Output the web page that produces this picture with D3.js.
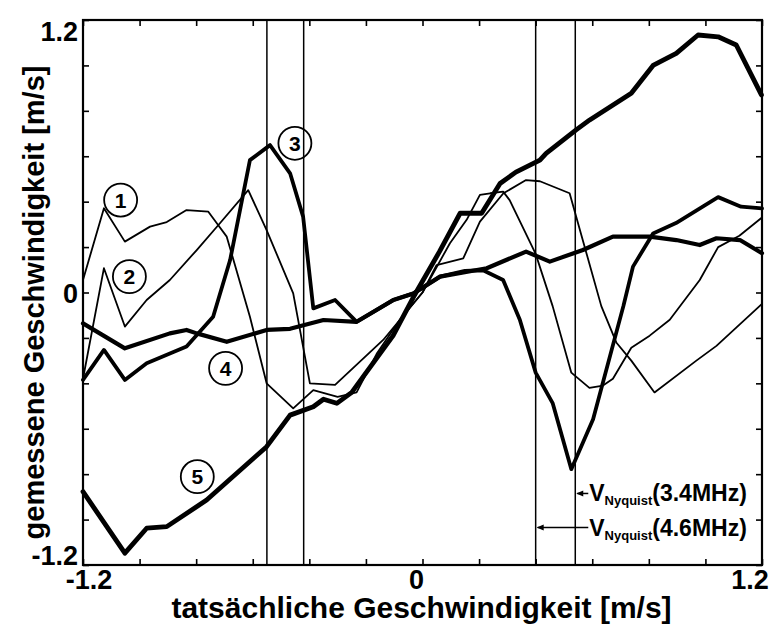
<!DOCTYPE html>
<html>
<head>
<meta charset="utf-8">
<script src="https://cdn.jsdelivr.net/npm/d3@7"></script>
<style>
  body { margin: 0; background: #fff; }
  text { font-family: "Liberation Sans", Arial, sans-serif; fill: #000; }
</style>
</head>
<body>
<div id="chart"></div>
<script>
var kurve1 = [[-1.2, 0.055], [-1.126, 0.371], [-1.052, 0.224], [-0.963, 0.29], [-0.904, 0.31],
  [-0.834, 0.363], [-0.757, 0.356], [-0.727, 0.305], [-0.692, 0.246], [-0.61, -0.107],
  [-0.551, -0.40], [-0.457, -0.51], [-0.386, -0.43], [-0.30, -0.46], [-0.233, -0.44],
  [-0.162, -0.27], [-0.08, -0.12], [0, 0], [0.05, 0.121], [0.144, 0.15], [0.203, 0.312],
  [0.286, 0.437], [0.366, 0.495], [0.415, 0.49], [0.52, 0.437], [0.632, -0.06],
  [0.685, -0.22], [0.738, -0.30], [0.82, -0.44], [0.968, -0.30], [1.039, -0.235], [1.2, -0.05]];

var kurve2 = [[-1.2, -0.38], [-1.126, 0.107], [-1.052, -0.15], [-0.975, -0.033], [-0.893, 0.055],
  [-0.798, 0.187], [-0.716, 0.305], [-0.616, 0.451], [-0.551, 0.275], [-0.457, -0.004],
  [-0.398, -0.40], [-0.309, -0.407], [-0.139, -0.209], [0, 0], [0.097, 0.217], [0.156, 0.32],
  [0.203, 0.43], [0.239, 0.437], [0.285, 0.444], [0.308, 0.407], [0.40, 0.17], [0.46, -0.06],
  [0.526, -0.353], [0.59, -0.42], [0.638, -0.41], [0.673, -0.38], [0.738, -0.243],
  [0.803, -0.19], [0.874, -0.12], [0.98, 0.055], [1.045, 0.2], [1.12, 0.25], [1.2, 0.33]];

var kurve3 = [[-1.2, -0.385], [-1.126, -0.253], [-1.052, -0.385], [-0.975, -0.312], [-0.834, -0.238],
  [-0.74, -0.107], [-0.68, 0.143], [-0.61, 0.583], [-0.539, 0.649], [-0.468, 0.525],
  [-0.422, 0.334], [-0.386, -0.07], [-0.309, -0.033], [-0.245, -0.114], [-0.233, -0.129],
  [-0.103, -0.033], [-0.032, -0.004], [0.062, 0.07], [0.15, 0.095], [0.214, 0.098],
  [0.285, 0.055], [0.344, -0.12], [0.40, -0.353], [0.46, -0.487], [0.526, -0.778],
  [0.603, -0.558], [0.71, -0.06], [0.744, 0.114], [0.815, 0.26], [0.896, 0.306],
  [1.045, 0.42], [1.126, 0.378], [1.2, 0.37]];

var kurve4 = [[-1.2, -0.136], [-1.052, -0.246], [-0.893, -0.18], [-0.834, -0.165], [-0.798, -0.18],
  [-0.692, -0.217], [-0.551, -0.165], [-0.468, -0.16], [-0.35, -0.121], [-0.233, -0.129],
  [-0.103, -0.033], [-0.032, -0.004], [0.062, 0.07], [0.227, 0.107], [0.366, 0.18],
  [0.45, 0.136], [0.567, 0.187], [0.673, 0.246], [0.803, 0.246], [0.897, 0.231],
  [0.98, 0.209], [1.039, 0.239], [1.122, 0.231], [1.2, 0.173]];

var kurve5 = [[-1.2, -0.877], [-1.052, -1.148], [-0.975, -1.038], [-0.904, -1.031], [-0.763, -0.914],
  [-0.551, -0.679], [-0.468, -0.54], [-0.386, -0.503], [-0.35, -0.47], [-0.303, -0.488],
  [-0.25, -0.44], [-0.104, -0.19], [-0.032, -0.02], [0.06, 0.18], [0.133, 0.349],
  [0.209, 0.349], [0.274, 0.48], [0.33, 0.53], [0.415, 0.583], [0.437, 0.613],
  [0.543, 0.716], [0.591, 0.76], [0.738, 0.877], [0.815, 1.0], [0.897, 1.053],
  [0.974, 1.134], [1.045, 1.126], [1.109, 1.09], [1.198, 0.87]];

var kurven = [kurve1, kurve2, kurve3, kurve4, kurve5];
var linienStaerke = [1.8, 1.8, 3.8, 4.2, 4.8];

// Nummern an den Kurven (Lage in m/s)
var nummern = ["1", "2", "3", "4", "5"];
var nummerX = [-1.067, -1.036, -0.451, -0.696, -0.796];
var nummerY = [0.407, 0.07, 0.657, -0.334, -0.811];

// Nyquist-Grenzen
var nyquistLinien = [-0.55, -0.42, 0.40, 0.54];
var nyquistText = ["(3.4MHz)", "(4.6MHz)"];
var nyquistZiel = [0.54, 0.40];
var nyquistHoehe = [-0.885, -1.035];

var tickWerte = [-1.2, -1.0, -0.8, -0.6, -0.4, -0.2, 0, 0.2, 0.4, 0.6, 0.8, 1.0, 1.2];
var tickBeschriftung = [-1.2, 0, 1.2];

var totalWidth = 783, totalHeight = 626,
    margin = {top: 20, right: 21, bottom: 61, left: 83},
    width = totalWidth - margin.left - margin.right,
    height = totalHeight - margin.top - margin.bottom;

var x = d3.scaleLinear().domain([-1.2, 1.2]).range([0, width]),
    y = d3.scaleLinear().domain([-1.2, 1.2]).range([height, 0]);

var svg = d3.select("#chart").append("svg")
    .attr("width", totalWidth)
    .attr("height", totalHeight)
  .append("g")
    .attr("transform", "translate(" + margin.left + "," + margin.top + ")");

// Ticks nach innen, auf allen vier Seiten
svg.append("g").attr("transform", "translate(0," + height + ")")
  .call(d3.axisBottom(x).tickValues(tickWerte).tickSizeInner(-6).tickSizeOuter(0).tickFormat(""));
svg.append("g")
  .call(d3.axisTop(x).tickValues(tickWerte).tickSizeInner(-6).tickSizeOuter(0).tickFormat(""));
svg.append("g")
  .call(d3.axisLeft(y).tickValues(tickWerte).tickSizeInner(-6).tickSizeOuter(0).tickFormat(""));
svg.append("g").attr("transform", "translate(" + width + ",0)")
  .call(d3.axisRight(y).tickValues(tickWerte).tickSizeInner(-6).tickSizeOuter(0).tickFormat(""));
svg.selectAll(".domain").remove();
svg.selectAll(".tick line").attr("stroke", "#000").attr("stroke-width", 1.6);

// Vertikale Nyquist-Linien
svg.selectAll(".nyq")
  .data(nyquistLinien)
  .enter().append("line")
    .attr("x1", function(d) { return x(d); })
    .attr("x2", function(d) { return x(d); })
    .attr("y1", 0)
    .attr("y2", height)
    .attr("stroke", "#000")
    .attr("stroke-width", 1.5);

var linie = d3.line()
  .x(function(d) { return x(d[0]); })
  .y(function(d) { return y(d[1]); });

svg.selectAll(".kurve")
  .data(kurven)
  .enter().append("path")
    .attr("fill", "none")
    .attr("stroke", "#000")
    .attr("stroke-width", function(d, i) { return linienStaerke[i]; })
    .attr("stroke-linejoin", "round")
    .attr("stroke-linecap", "round")
    .attr("d", linie);

// Rahmen
svg.append("rect")
  .attr("width", width)
  .attr("height", height)
  .attr("fill", "none")
  .attr("stroke", "#000")
  .attr("stroke-width", 2.2);

// Kreise mit Nummern
var marke = svg.selectAll(".marke")
  .data(nummern)
  .enter().append("g")
    .attr("transform", function(d, i) { return "translate(" + x(nummerX[i]) + "," + y(nummerY[i]) + ")"; });
marke.append("circle")
  .attr("r", 16.5)
  .attr("fill", "none")
  .attr("stroke", "#000")
  .attr("stroke-width", 1.8);
marke.append("text")
  .attr("text-anchor", "middle")
  .attr("dy", "0.36em")
  .style("font-size", "21px")
  .style("font-weight", "bold")
  .text(function(d) { return d; });

// Nyquist-Beschriftungen mit Pfeilen
var nyq = svg.selectAll(".nyqText")
  .data(nyquistText)
  .enter().append("g");
nyq.append("line")
  .attr("x1", function(d, i) { return x(nyquistZiel[i]) + 2; })
  .attr("x2", x(0.54) + 13)
  .attr("y1", function(d, i) { return y(nyquistHoehe[i]); })
  .attr("y2", function(d, i) { return y(nyquistHoehe[i]); })
  .attr("stroke", "#000")
  .attr("stroke-width", 1.5);
nyq.append("path")
  .attr("d", function(d, i) {
    var px = x(nyquistZiel[i]) + 1, py = y(nyquistHoehe[i]);
    return "M" + px + "," + py + "L" + (px + 7) + "," + (py - 3) + "L" + (px + 7) + "," + (py + 3) + "Z";
  })
  .attr("fill", "#000");
var nyqText = nyq.append("text")
  .attr("x", x(0.54) + 14)
  .attr("y", function(d, i) { return y(nyquistHoehe[i]) + 8; })
  .style("font-size", "23px")
  .style("font-weight", "bold");
nyqText.append("tspan").text("V");
nyqText.append("tspan")
  .attr("dy", 4)
  .style("font-size", "13px")
  .text("Nyquist");
nyqText.append("tspan")
  .attr("dy", -4)
  .text(function(d) { return d; });

// Tick-Beschriftungen
svg.selectAll(".xBeschr")
  .data(tickBeschriftung)
  .enter().append("text")
    .attr("x", function(d) { return x(d) + (d < 0 ? 6 : d > 0 ? -12 : -6); })
    .attr("y", height + 24)
    .attr("text-anchor", "middle")
    .style("font-size", "27px")
    .style("font-weight", "bold")
    .text(function(d) { return d; });
svg.selectAll(".yBeschr")
  .data(tickBeschriftung)
  .enter().append("text")
    .attr("x", -5)
    .attr("y", function(d) { return y(d) + (d > 0 ? 21 : d < 0 ? 0 : 10); })
    .attr("text-anchor", "end")
    .style("font-size", "27px")
    .style("font-weight", "bold")
    .text(function(d) { return d; });

// Achsentitel
svg.append("text")
  .attr("x", width / 2 - 1)
  .attr("y", height + 53)
  .attr("text-anchor", "middle")
  .style("font-size", "30px")
  .style("font-weight", "bold")
  .text("tatsächliche Geschwindigkeit [m/s]");
svg.append("text")
  .attr("transform", "translate(-39," + (height / 2 + 10) + ") rotate(-90)")
  .attr("text-anchor", "middle")
  .style("font-size", "29px")
  .style("font-weight", "bold")
  .text("gemessene Geschwindigkeit [m/s]");
</script>
</body>
</html>
